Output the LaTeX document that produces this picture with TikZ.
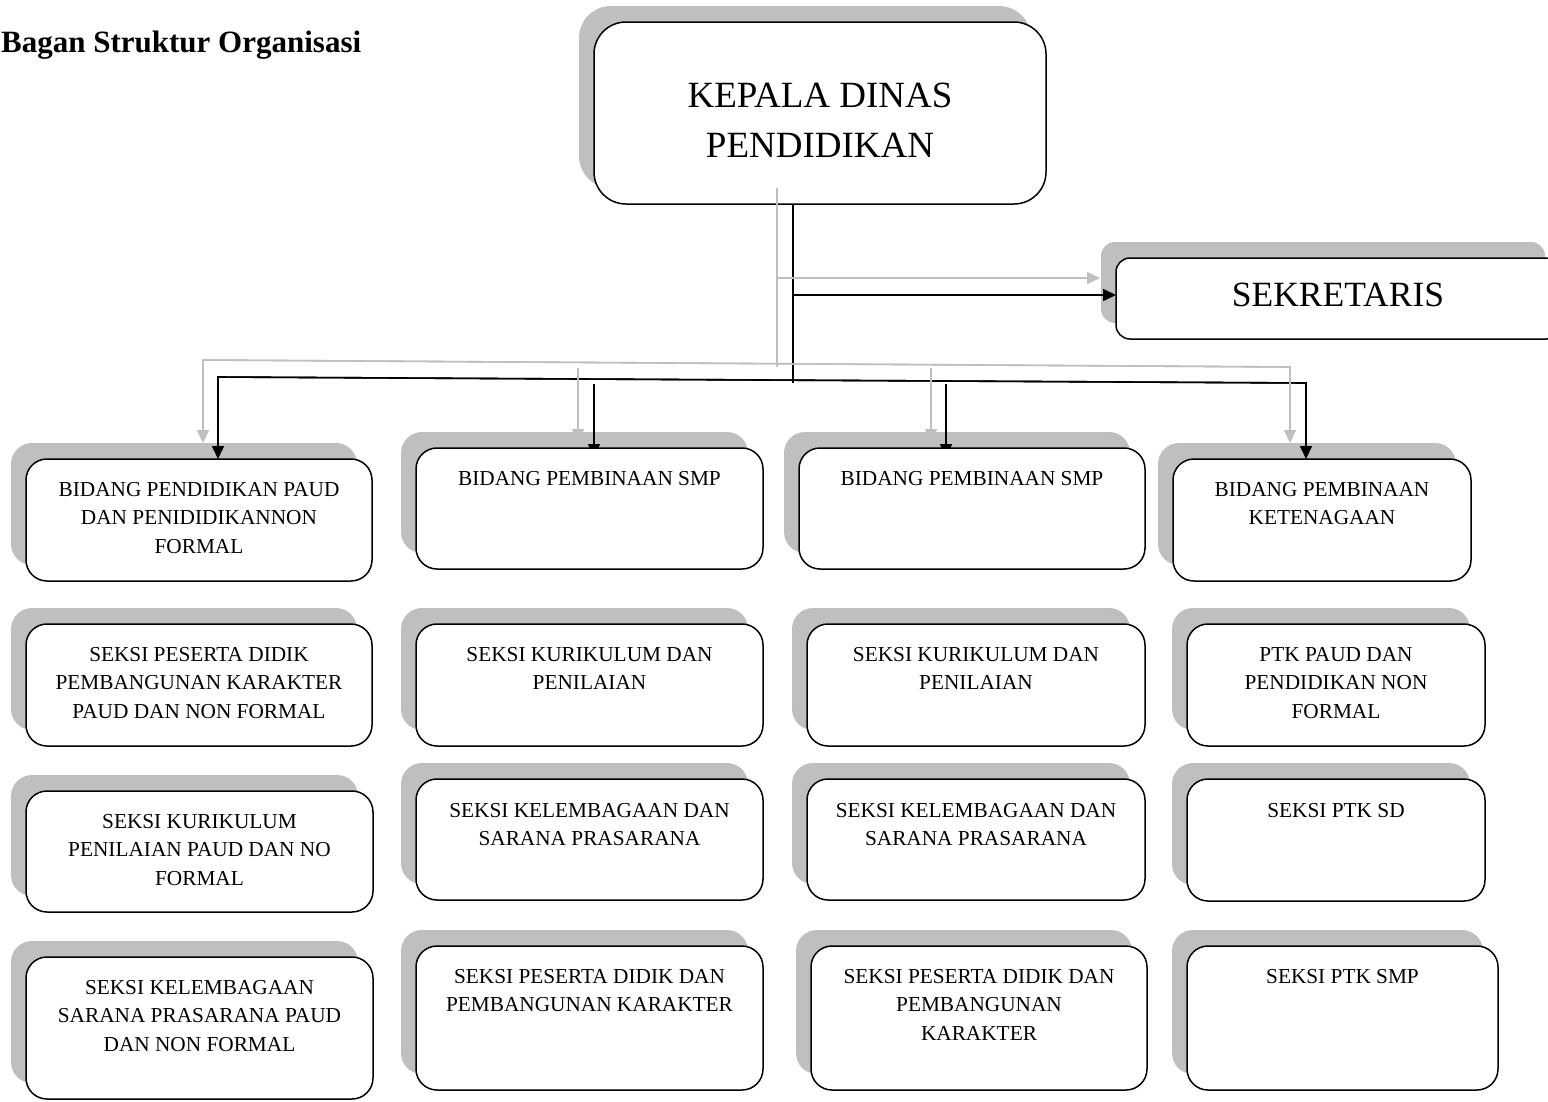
\documentclass[tikz,border=0pt]{standalone}
\usepackage{fontspec}
\setmainfont{Liberation Serif}
\usetikzlibrary{arrows.meta}
\definecolor{shadowgray}{HTML}{BFBFBF}
\pgfdeclarelayer{shadowlayer}
\pgfdeclarelayer{linklayer}
\pgfdeclarelayer{toplayer}
\pgfsetlayers{shadowlayer,linklayer,main,toplayer}
\newcommand\orgbox[6]{%
  \node[orgnode, rounded corners=#6, minimum width={#4-#2}, minimum height={#5-#3}] (#1) at ({(#2+#4)/2},{(#3+#5)/2}) {};
  \begin{pgfonlayer}{shadowlayer}
    \fill[fill=shadowgray, rounded corners=#6] ([shift={(-15,-16)}]#1.north west) rectangle ([shift={(-15,-16)}]#1.south east);
  \end{pgfonlayer}}
\tikzset{
  orgnode/.style={draw=black, fill=white, line width=1.5pt, inner sep=0pt, outer sep=0pt, rectangle},
  boxtext/.style={font=\fontsize{21.3}{28.5}\selectfont, align=center, inner sep=0pt, anchor=north},
  bigtext/.style={font=\fontsize{37}{50}\selectfont, align=center, inner sep=0pt, anchor=north},
  sektext/.style={font=\fontsize{35.5}{42}\selectfont, inner sep=0pt, anchor=north},
  titletext/.style={font=\bfseries\fontsize{31}{37}\selectfont, inner sep=0pt, anchor=base west},
  link/.style={draw=black, line width=1.6pt},
  arr/.style={link, -{Triangle[length=13pt,width=12pt]}},
  glink/.style={draw=shadowgray, line width=1.6pt},
  garr/.style={glink, -{Triangle[length=13pt,width=12pt]}}
}
\begin{document}
\begin{tikzpicture}[x=1pt,y=-1pt]
\useasboundingbox (0,0) rectangle (1548,1101);
\node[titletext] (title) at (1,52) {Bagan Struktur Organisasi};
% boxes
\orgbox{kepala}{594}{22}{1046}{204}{32pt}
\orgbox{sek}{1116}{258}{1560}{339}{14pt}
\orgbox{r1b1}{26}{459}{372}{581}{21pt}
\orgbox{r1b2}{416}{448}{763}{569}{21pt}
\orgbox{r1b3}{799}{448}{1145}{569}{21pt}
\orgbox{r1b4}{1173}{459}{1471}{581}{21pt}
\orgbox{r2b1}{26}{624}{372}{746}{21pt}
\orgbox{r2b2}{416}{624}{763}{746}{21pt}
\orgbox{r2b3}{807}{624}{1145}{746}{21pt}
\orgbox{r2b4}{1187}{624}{1485}{746}{21pt}
\orgbox{r3b1}{26}{791}{373}{912}{21pt}
\orgbox{r3b2}{416}{779}{763}{900}{21pt}
\orgbox{r3b3}{807}{779}{1145}{900}{21pt}
\orgbox{r3b4}{1187}{779}{1485}{901}{21pt}
\orgbox{r4b1}{26}{957}{373}{1099}{21pt}
\orgbox{r4b2}{416}{946}{763}{1090}{21pt}
\orgbox{r4b3}{811}{946}{1147}{1090}{21pt}
\orgbox{r4b4}{1187}{946}{1498}{1090}{21pt}
% texts
\node[bigtext] (tkepala) at ([yshift=-61pt]kepala.north) {KEPALA DINAS\\PENDIDIKAN};
\node[sektext] (tsek) at ([yshift=-25pt]sek.north) {SEKRETARIS};
\node[boxtext] (t11) at ([yshift=-23pt]r1b1.north) {BIDANG PENDIDIKAN PAUD\\DAN PENIDIDIKANNON\\FORMAL};
\node[boxtext] (t12) at ([yshift=-23pt]r1b2.north) {BIDANG PEMBINAAN SMP};
\node[boxtext] (t13) at ([yshift=-23pt]r1b3.north) {BIDANG PEMBINAAN SMP};
\node[boxtext] (t14) at ([yshift=-23pt]r1b4.north) {BIDANG PEMBINAAN\\KETENAGAAN};
\node[boxtext] (t21) at ([yshift=-23pt]r2b1.north) {SEKSI PESERTA DIDIK\\PEMBANGUNAN KARAKTER\\PAUD DAN NON FORMAL};
\node[boxtext] (t22) at ([yshift=-23pt]r2b2.north) {SEKSI KURIKULUM DAN\\PENILAIAN};
\node[boxtext] (t23) at ([yshift=-23pt]r2b3.north) {SEKSI KURIKULUM DAN\\PENILAIAN};
\node[boxtext] (t24) at ([yshift=-23pt]r2b4.north) {PTK PAUD DAN\\PENDIDIKAN NON\\FORMAL};
\node[boxtext] (t31) at ([yshift=-23pt]r3b1.north) {SEKSI KURIKULUM\\PENILAIAN PAUD DAN NO\\FORMAL};
\node[boxtext] (t32) at ([yshift=-24pt]r3b2.north) {SEKSI KELEMBAGAAN DAN\\SARANA PRASARANA};
\node[boxtext] (t33) at ([yshift=-24pt]r3b3.north) {SEKSI KELEMBAGAAN DAN\\SARANA PRASARANA};
\node[boxtext] (t34) at ([yshift=-24pt]r3b4.north) {SEKSI PTK SD};
\node[boxtext] (t41) at ([yshift=-23pt]r4b1.north) {SEKSI KELEMBAGAAN\\SARANA PRASARANA PAUD\\DAN NON FORMAL};
\node[boxtext] (t42) at ([yshift=-23pt]r4b2.north) {SEKSI PESERTA DIDIK DAN\\PEMBANGUNAN KARAKTER};
\node[boxtext] (t43) at ([yshift=-23pt]r4b3.north) {SEKSI PESERTA DIDIK DAN\\PEMBANGUNAN\\KARAKTER};
\node[boxtext] (t44) at ([yshift=-23pt]r4b4.north) {SEKSI PTK SMP};
% black connectors
\coordinate (bl) at (218,377);
\coordinate (br) at (1306,383);
\coordinate (tj) at (793,383);
\coordinate (sj) at (793,295);
\coordinate (a2) at (594,384);
\coordinate (a3) at (946,384);
\begin{pgfonlayer}{linklayer}
  \draw[link] (kepala.south -| tj) -- (tj);
  \draw[arr] (sj) -- (sj -| sek.west);
  \draw[arr] (br) -- (bl) -- (bl |- r1b1.north);
  \draw[arr] (bl) -- (br) -- (br |- r1b4.north);
  \draw[arr, shorten >=-9pt] (a2) -- (a2 |- r1b2.north);
  \draw[arr, shorten >=-9pt] (a3) -- (a3 |- r1b3.north);
\end{pgfonlayer}
% gray connectors
\coordinate (gl) at (203,360);
\coordinate (gr) at (1290,367);
\coordinate (gtop) at (777,188);
\coordinate (gbot) at (777,367);
\coordinate (gs) at (777,278);
\coordinate (g2) at (578,368);
\coordinate (g3) at (931,368);
\begin{pgfonlayer}{toplayer}
  \draw[glink] (gtop) -- (gbot);
  \draw[garr, shorten >=16pt] (gs) -- (gs -| sek.west);
  \draw[garr, shorten >=16pt] (gr) -- (gl) -- (gl |- r1b1.north);
  \draw[garr, shorten >=16pt] (gl) -- (gr) -- (gr |- r1b4.north);
  \draw[garr, shorten >=6pt] (g2) -- (g2 |- r1b2.north);
  \draw[garr, shorten >=6pt] (g3) -- (g3 |- r1b3.north);
\end{pgfonlayer}
\end{tikzpicture}
\end{document}
